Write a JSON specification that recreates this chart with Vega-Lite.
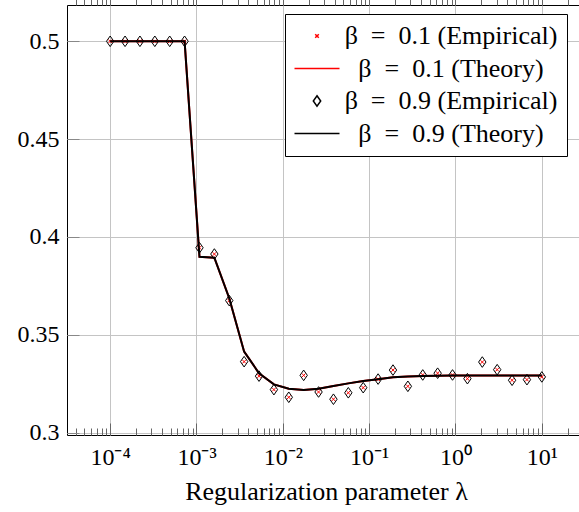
{
  "$schema": "https://vega.github.io/schema/vega-lite/v6.json",
  "autosize": "none",
  "padding": {"left": 67, "top": 5, "right": 0, "bottom": 77},
  "width": 518,
  "height": 430,
  "config": {
    "view": {"stroke": "#000000", "strokeWidth": 1},
    "font": "Liberation Serif"
  },
  "resolve": {"axis": {"x": "independent"}},
  "data": {
    "values": [
      {"lam": 0.0001, "e1": 0.5, "e9": 0.5, "t1": 0.5, "t9": 0.5},
      {"lam": 0.00014874, "e1": 0.5, "e9": 0.5, "t1": 0.5, "t9": 0.5},
      {"lam": 0.00022122, "e1": 0.5, "e9": 0.5, "t1": 0.5, "t9": 0.5},
      {"lam": 0.00032903, "e1": 0.5, "e9": 0.5, "t1": 0.5, "t9": 0.5},
      {"lam": 0.00048939, "e1": 0.5, "e9": 0.5, "t1": 0.5, "t9": 0.5},
      {"lam": 0.0007279, "e1": 0.5, "e9": 0.5, "t1": 0.5, "t9": 0.5},
      {"lam": 0.0010826, "e1": 0.3945, "e9": 0.3945, "t1": 0.3899, "t9": 0.3899},
      {"lam": 0.0016103, "e1": 0.3913, "e9": 0.3913, "t1": 0.3894, "t9": 0.3894},
      {"lam": 0.002395, "e1": 0.3675, "e9": 0.3675, "t1": 0.3687, "t9": 0.3687},
      {"lam": 0.0035622, "e1": 0.3363, "e9": 0.3363, "t1": 0.3414, "t9": 0.3414},
      {"lam": 0.0052983, "e1": 0.3289, "e9": 0.3289, "t1": 0.3304, "t9": 0.3304},
      {"lam": 0.0078805, "e1": 0.322, "e9": 0.322, "t1": 0.3247, "t9": 0.3247},
      {"lam": 0.011721, "e1": 0.3181, "e9": 0.3181, "t1": 0.3225, "t9": 0.3225},
      {"lam": 0.017433, "e1": 0.3293, "e9": 0.3293, "t1": 0.3218, "t9": 0.3218},
      {"lam": 0.025929, "e1": 0.3208, "e9": 0.3208, "t1": 0.3225, "t9": 0.3225},
      {"lam": 0.038566, "e1": 0.3171, "e9": 0.3171, "t1": 0.3239, "t9": 0.3239},
      {"lam": 0.057362, "e1": 0.3204, "e9": 0.3204, "t1": 0.3252, "t9": 0.3252},
      {"lam": 0.085317, "e1": 0.323, "e9": 0.323, "t1": 0.3264, "t9": 0.3264},
      {"lam": 0.1269, "e1": 0.3274, "e9": 0.3274, "t1": 0.3273, "t9": 0.3273},
      {"lam": 0.18874, "e1": 0.332, "e9": 0.332, "t1": 0.3283, "t9": 0.3283},
      {"lam": 0.28072, "e1": 0.3237, "e9": 0.3237, "t1": 0.3287, "t9": 0.3287},
      {"lam": 0.41753, "e1": 0.3295, "e9": 0.3295, "t1": 0.329, "t9": 0.329},
      {"lam": 0.62102, "e1": 0.3304, "e9": 0.3304, "t1": 0.3291, "t9": 0.3291},
      {"lam": 0.92367, "e1": 0.3295, "e9": 0.3295, "t1": 0.3292, "t9": 0.3292},
      {"lam": 1.37382, "e1": 0.3276, "e9": 0.3276, "t1": 0.3292, "t9": 0.3292},
      {"lam": 2.04336, "e1": 0.3361, "e9": 0.3361, "t1": 0.3292, "t9": 0.3292},
      {"lam": 3.0392, "e1": 0.3322, "e9": 0.3322, "t1": 0.3292, "t9": 0.3292},
      {"lam": 4.52035, "e1": 0.3268, "e9": 0.3268, "t1": 0.3292, "t9": 0.3292},
      {"lam": 6.72336, "e1": 0.3271, "e9": 0.3271, "t1": 0.3292, "t9": 0.3292},
      {"lam": 10, "e1": 0.3285, "e9": 0.3285, "t1": 0.3292, "t9": 0.3292}
    ]
  },
  "layer": [
    {
      "mark": {"type": "line", "color": "#ff0000", "strokeWidth": 2},
      "encoding": {
        "x": {
          "field": "lam", "type": "quantitative",
          "scale": {"type": "log", "domain": [0.000031623, 31.623], "nice": false},
          "axis": {
            "orient": "bottom",
            "values": [0.00004,0.00005,0.00006,0.00007,0.00008,0.00009,0.0001,0.0002,0.0003,0.0004,0.0005,0.0006,0.0007,0.0008,0.0009,0.001,0.002,0.003,0.004,0.005,0.006,0.007,0.008,0.009,0.01,0.02,0.03,0.04,0.05,0.06,0.07,0.08,0.09,0.1,0.2,0.3,0.4,0.5,0.6,0.7,0.8,0.9,1,2,3,4,5,6,7,8,9,10,20,30],
            "domain": false,
            "grid": true,
            "gridColor": "#c4c4c4",
            "gridWidth": 1,
            "gridOpacity": {"condition": {"test": "abs(log(datum.value)/LN10 - round(log(datum.value)/LN10)) < 0.001", "value": 1}, "value": 0},
            "tickColor": "#666666",
            "tickWidth": 1,
            "tickSize": {"condition": {"test": "abs(log(datum.value)/LN10 - round(log(datum.value)/LN10)) < 0.001", "value": -12}, "value": -7},
            "labelExpr": "abs(log(datum.value)/LN10 - round(log(datum.value)/LN10)) < 0.001 ? ('10' + (round(log(datum.value)/LN10) == -4 ? '⁻⁴' : round(log(datum.value)/LN10) == -3 ? '⁻³' : round(log(datum.value)/LN10) == -2 ? '⁻²' : round(log(datum.value)/LN10) == -1 ? '⁻¹' : round(log(datum.value)/LN10) == 0 ? '⁰' : '¹')) : ''",
            "labelFont": "Liberation Serif",
            "labelFontSize": 24,
            "labelColor": "#000000",
            "labelPadding": 22,
            "labelOverlap": false,
            "labelFlush": false,
            "labelBound": false,
            "title": "Regularization parameter λ",
            "titleFont": "Liberation Serif",
            "titleFontSize": 26,
            "titleFontWeight": "normal",
            "titleColor": "#000000",
            "titlePadding": 4
          }
        },
        "y": {
          "field": "t1", "type": "quantitative",
          "scale": {"domain": [0.29882, 0.51855], "nice": false, "zero": false},
          "axis": {
            "values": [0.3, 0.35, 0.4, 0.45, 0.5],
            "format": ".2~f",
            "domain": false,
            "grid": true,
            "gridColor": "#c4c4c4",
            "gridWidth": 1,
            "tickColor": "#888888",
            "tickSize": -12,
            "labelFont": "Liberation Serif",
            "labelFontSize": 24,
            "labelColor": "#000000",
            "labelPadding": 20,
            "title": null
          }
        }
      }
    },
    {
      "transform": [{"fold": ["e1", "e9"], "as": ["series", "val"]}],
      "mark": {"type": "point", "filled": false, "size": 400, "strokeWidth": 1, "opacity": 1},
      "encoding": {
        "x": {
          "field": "lam", "type": "quantitative",
          "axis": {
            "orient": "top",
            "domain": false,
            "grid": false,
            "labels": false,
            "ticks": false,
            "title": null
          }
        },
        "y": {
          "field": "val", "type": "quantitative",
          "axis": {
            "values": [0.3, 0.35, 0.4, 0.45, 0.5],
            "format": ".2~f",
            "domain": false,
            "grid": true,
            "gridColor": "#c4c4c4",
            "gridWidth": 1,
            "tickColor": "#888888",
            "tickSize": -12,
            "labelFont": "Liberation Serif",
            "labelFontSize": 24,
            "labelColor": "#000000",
            "labelPadding": 20,
            "title": null
          }
        },
        "color": {
          "field": "series", "type": "nominal",
          "scale": {"domain": ["e1", "t1", "e9", "t9"], "range": ["#ff0000", "#ff0000", "#000000", "#000000"]},
          "legend": {
            "orient": "none",
            "legendX": 218,
            "legendY": 9,
            "title": null,
            "labelExpr": "datum.value == 'e1' ? 'β\u2002=\u20020.1 (Empirical)\u2005' : datum.value == 't1' ? 'β\u2002=\u20020.1 (Theory)\u2005' : datum.value == 'e9' ? 'β\u2002=\u20020.9 (Empirical)\u2005' : 'β\u2002=\u20020.9 (Theory)\u2005'",
            "labelFont": "Liberation Serif",
            "labelFontSize": 26,
            "labelColor": "#000000",
            "labelAlign": "center",
            "labelOffset": 121,
            "labelLimit": 400,
            "symbolOffset": 10,
            "symbolSize": 400,
            "symbolStrokeWidth": 1.5,
            "symbolFillColor": "transparent",
            "padding": 9,
            "rowPadding": 6.5,
            "strokeColor": "#000000",
            "fillColor": "#ffffff",
            "cornerRadius": 0
          }
        },
        "shape": {
          "field": "series", "type": "nominal",
          "scale": {"domain": ["e1", "t1", "e9", "t9"], "range": ["M-0.18,-0.18L0.18,0.18M-0.18,0.18L0.18,-0.18", "M-2.25,0L2.25,0", "M0,-0.53L0.37,0L0,0.53L-0.37,0Z", "M-2.25,0L2.25,0"]},
          "legend": {
            "orient": "none",
            "legendX": 218,
            "legendY": 9,
            "title": null
          }
        }
      }
    },
    {
      "mark": {"type": "line", "color": "#000000", "strokeWidth": 2},
      "encoding": {
        "x": {
          "field": "lam", "type": "quantitative",
          "axis": {
            "orient": "top",
            "values": [0.00004,0.00005,0.00006,0.00007,0.00008,0.00009,0.0001,0.0002,0.0003,0.0004,0.0005,0.0006,0.0007,0.0008,0.0009,0.001,0.002,0.003,0.004,0.005,0.006,0.007,0.008,0.009,0.01,0.02,0.03,0.04,0.05,0.06,0.07,0.08,0.09,0.1,0.2,0.3,0.4,0.5,0.6,0.7,0.8,0.9,1,2,3,4,5,6,7,8,9,10,20,30],
            "domain": false,
            "grid": false,
            "labels": false,
            "ticks": true,
            "title": null,
            "tickColor": "#666666",
            "tickWidth": 1,
            "tickSize": {"condition": {"test": "abs(log(datum.value)/LN10 - round(log(datum.value)/LN10)) < 0.001", "value": 12}, "value": 7}
          }
        },
        "y": {
          "field": "t9", "type": "quantitative",
          "axis": {
            "values": [0.3, 0.35, 0.4, 0.45, 0.5],
            "format": ".2~f",
            "domain": false,
            "grid": true,
            "gridColor": "#c4c4c4",
            "gridWidth": 1,
            "tickColor": "#888888",
            "tickSize": -12,
            "labelFont": "Liberation Serif",
            "labelFontSize": 24,
            "labelColor": "#000000",
            "labelPadding": 20,
            "title": null
          }
        }
      }
    }
  ]
}
